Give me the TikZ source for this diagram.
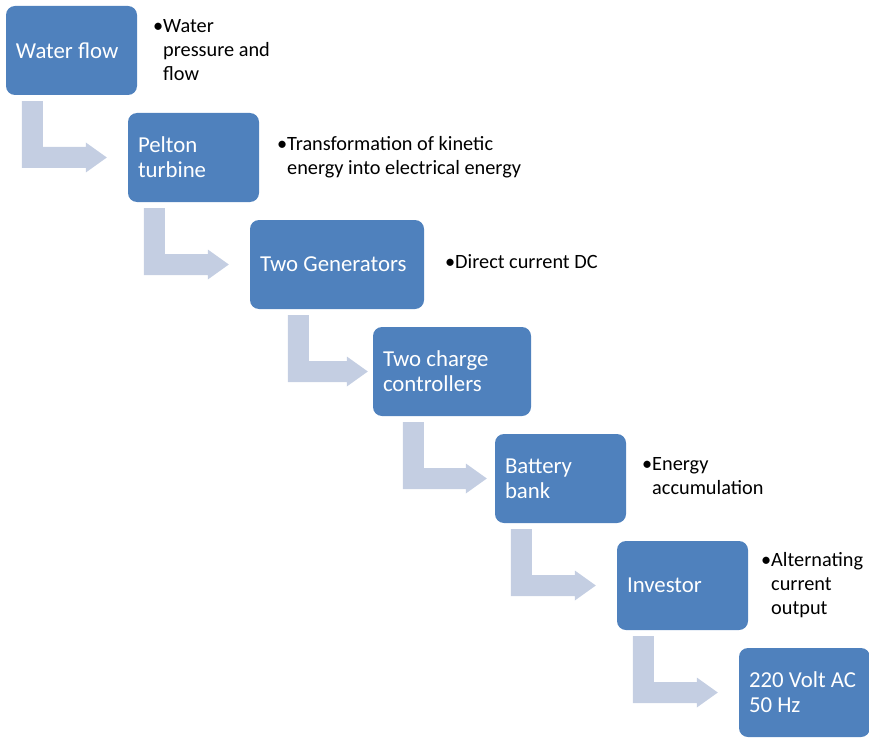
\documentclass[tikz,border=0pt]{standalone}
\usepackage{fontspec}
\setmainfont{Carlito}
\usepackage{tikz}
\usetikzlibrary{calc}
\definecolor{boxblue}{RGB}{79,129,189}
\definecolor{arrowblue}{RGB}{196,206,226}
\tikzset{
	stepbox/.style={fill=boxblue, rounded corners=9pt, text=white, font=\fontsize{22.8}{25}\selectfont,
		inner xsep=10pt, inner ysep=0pt, minimum height=89pt, align=flush left, text width=#1},
	stepbox/.default=111pt,
	notetext/.style={anchor=west, inner sep=0pt, font=\fontsize{20.3}{24}\selectfont},
	arrowfill/.style={fill=arrowblue}
}
% bent arrow from box #1 down and over to box #2; #3 = stem offset, #4 = gap before #2
\newcommand{\bentarrow}[4]{\fill[arrowfill] ($(#1.south west)+(#3,6)$) coordinate (#1-s) -- ++(21,0)
	|- ($(#2.west)+(-#4-21,-10.5)$) -- ++(0,-4.5) -- ($(#2.west)+(-#4,0)$) -- ++(-21,15) -- ++(0,-4.5) -| (#1-s) -- cycle;}
\newcommand{\bul}[1]{\begin{tabular}{@{}l@{}l@{}}\makebox[10pt][l]{\textbullet}&#1\end{tabular}}

\begin{document}
\begin{tikzpicture}[x=1pt,y=-1pt]
			%%%%% START %%%%%
			\useasboundingbox (0,0) rectangle (869,738);
			
			\node[stepbox] (flow) at (71.5, 50.5) {Water flow};
			\node[stepbox] (pelton) at (193.5, 157.5) {Pelton\\turbine};
			\node[stepbox=154pt] (generators) at (337, 264.5) {Two Generators};
			\node[stepbox=138pt] (controllers) at (452, 371.5) {Two charge\\controllers};
			\node[stepbox] (battery) at (560.5, 478.5) {Battery\\bank};
			\node[stepbox] (investor) at (682.5, 585.5) {Investor};
			\node[stepbox] (output) at (804.5, 692.5) {220 Volt AC\\50 Hz};
			
			\bentarrow{flow}{pelton}{16}{21}
			\bentarrow{pelton}{generators}{16}{21}
			\bentarrow{generators}{controllers}{38}{5}
			\bentarrow{controllers}{battery}{30}{8}
			\bentarrow{battery}{investor}{16}{21}
			\bentarrow{investor}{output}{16}{21}
			
			\node[notetext] (flow-note) at (153, 52) {\bul{Water\\&pressure and\\&flow}};
			\node[notetext] (pelton-note) at (277, 158) {\bul{Transformation of kinetic\\&energy into electrical energy}};
			\node[notetext] (generators-note) at (445, 264) {\bul{Direct current DC}};
			\node[notetext] (battery-note) at (642, 478) {\bul{Energy\\&accumulation}};
			\node[notetext] (investor-note) at (761, 586) {\bul{Alternating\\&current\\&output}};
			
			%%%%% END %%%%%
\end{tikzpicture}
\end{document}
